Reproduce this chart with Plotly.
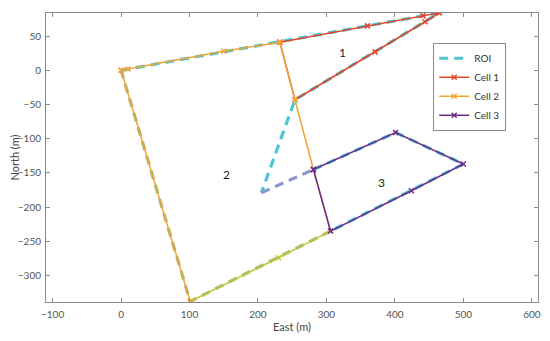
import plotly.graph_objects as go

# ROI boundary (East, North) in metres
roi_e = [0, 465, 254, 205, 281, 401, 500, 306, 101, 0]
roi_n = [0, 84, -43, -179, -145, -91, -137, -235, -338, 0]

# Cell 1
c1_e = [232, 360, 441, 465, 444, 371, 254, 232]
c1_n = [41, 65, 80, 84, 71, 27, -43, 41]

# Cell 2
c2_e = [0, 10, 150, 232, 254, 281, 306, 230, 101, 0]
c2_n = [0, 2, 28, 41, -43, -145, -235, -274, -338, 0]

# Cell 3
c3_e = [281, 401, 500, 424, 306, 281]
c3_n = [-145, -91, -137, -176, -235, -145]

# labels
lab_text = ["1", "2", "3"]
lab_e = [323, 154, 380]
lab_n = [26, -152, -164]

x_ticks = [-100, 0, 100, 200, 300, 400, 500, 600]
y_ticks = [-300, -250, -200, -150, -100, -50, 0, 50]

C_ROI = "#4DC5D2"
C_ROI_B = "#8D96CF"
C_ROI_G = "#A3B77E"
C1 = "#E2462A"
C2 = "#EFA535"
C2_G = "#C3C934"
C3 = "#6E2C8C"

fig = go.Figure()
dash = "9px,6px"

# ROI split into slices for the colour shifts seen in the picture
roi_slices = [(0, 4, C_ROI, True), (3, 5, C_ROI_B, False), (4, 8, C_ROI, False), (7, 10, C_ROI_G, False)]
for a, b, col, show in roi_slices:
    fig.add_trace(go.Scatter(
        x=roi_e[a:b], y=roi_n[a:b], mode="lines", name="ROI",
        line=dict(color=col, width=3.2, dash=dash),
        showlegend=show, legendgroup="roi"))

mk = lambda c: dict(symbol="x-thin", size=5, line=dict(width=1.5, color=c), color=c)

fig.add_trace(go.Scatter(x=c1_e, y=c1_n, mode="lines+markers", name="Cell 1",
                         line=dict(color=C1, width=1.5), marker=mk(C1)))
# Cell 2: upper part orange, bottom edge yellow-green (as in the picture)
fig.add_trace(go.Scatter(x=c2_e[:7], y=c2_n[:7], mode="lines+markers", name="Cell 2",
                         line=dict(color=C2, width=1.5), marker=mk(C2), legendgroup="c2"))
fig.add_trace(go.Scatter(x=c2_e[6:9], y=c2_n[6:9], mode="lines+markers", name="Cell 2",
                         line=dict(color=C2_G, width=1.5), marker=mk(C2_G),
                         legendgroup="c2", showlegend=False))
fig.add_trace(go.Scatter(x=c2_e[8:], y=c2_n[8:], mode="lines+markers", name="Cell 2",
                         line=dict(color=C2, width=1.5), marker=mk(C2),
                         legendgroup="c2", showlegend=False))
fig.add_trace(go.Scatter(x=c3_e, y=c3_n, mode="lines+markers", name="Cell 3",
                         line=dict(color=C3, width=1.5), marker=mk(C3)))

for t, e, n in zip(lab_text, lab_e, lab_n):
    fig.add_annotation(x=e, y=n, text=t, showarrow=False,
                       font=dict(size=12, color="#222222"))

axis_common = dict(
    showgrid=False, zeroline=False, showline=True, linecolor="#8a8a8a", linewidth=1,
    mirror="ticks", ticks="inside", ticklen=4, tickcolor="#8a8a8a",
    tickfont=dict(size=10, color="#555555"), automargin=False,
)
fig.update_xaxes(range=[-109.6, 609], tickvals=x_ticks, ticklabelstandoff=3,
                 title=dict(text="East (m)", font=dict(size=11, color="#444444"), standoff=4),
                 **axis_common)
fig.update_yaxes(range=[-338.7, 83.8], tickvals=y_ticks, ticklabelstandoff=2,
                 title=dict(text="North (m)", font=dict(size=11, color="#444444"), standoff=4),
                 **axis_common)

# the page body adds an 8px offset, so the figure is sized to fit the window
fig.update_layout(
    width=542, height=333,
    margin=dict(l=38, r=12, t=5, b=39),
    paper_bgcolor="white", plot_bgcolor="white",
    font=dict(family="Lato, Open Sans, sans-serif"),
    legend=dict(x=0.787, y=0.897, xanchor="left", yanchor="top",
                bgcolor="white", bordercolor="#8a8a8a", borderwidth=1,
                font=dict(size=10, color="#333333"), itemwidth=30,
                tracegroupgap=0),
    showlegend=True,
)

fig.write_html("out.html")
